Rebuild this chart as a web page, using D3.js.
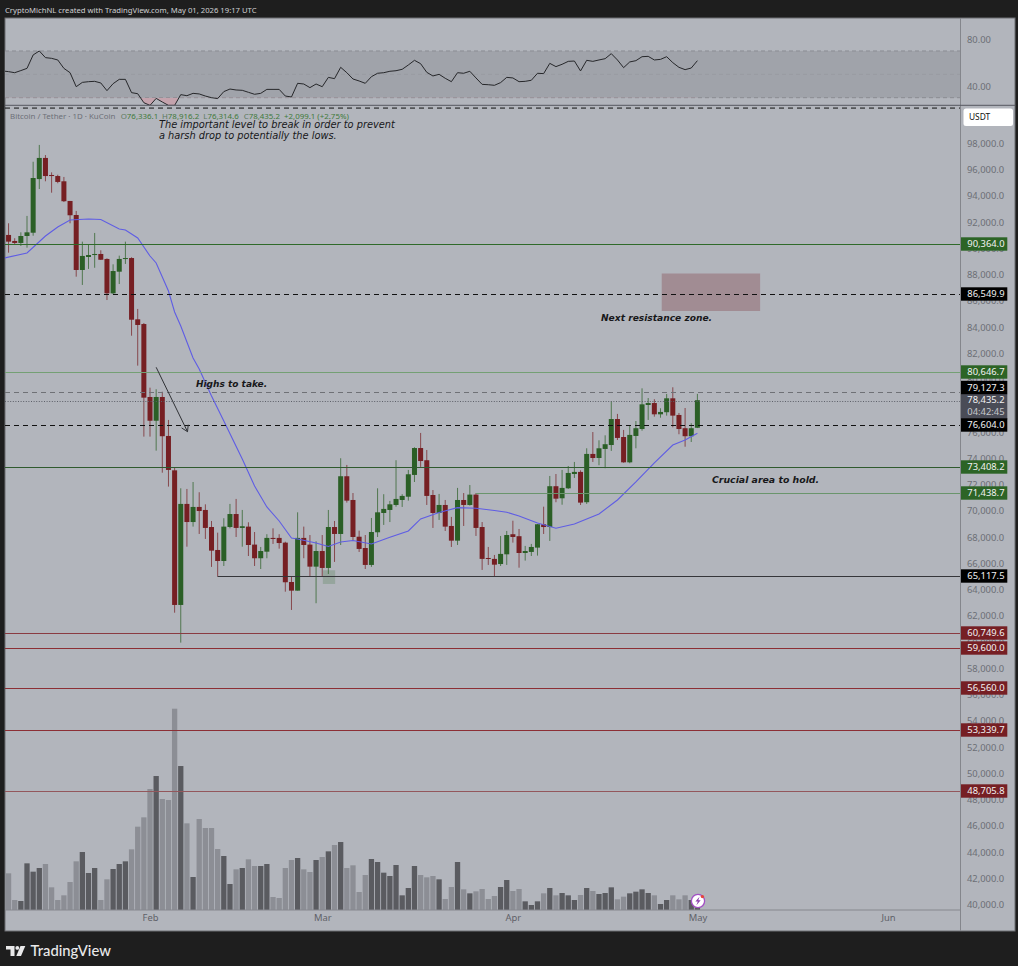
<!DOCTYPE html>
<html><head><meta charset="utf-8">
<script src="https://d3js.org/d3.v7.min.js"></script>
<style>
html,body{margin:0;padding:0;background:#1e1e1e;overflow:hidden}
svg{display:block}
text{font-family:"Noto Sans",sans-serif}
.note{font-family:"DejaVu Sans",sans-serif;font-style:italic;fill:#18181a}
</style></head><body>
<svg id="c" width="1018" height="966"></svg>
<script>
// ---------- data ----------
const firstDay = Date.UTC(2026,0,9);
const opens = [
91030,90570,90420,90950,91200,95290,96900,95600,95520,95120,
93620,92550,88360,89350,89500,89580,89200,86580,88230,89200,
89270,84600,84240,78680,76870,78680,75710,73090,62830,70530,
69150,70300,70070,68770,67020,66180,68770,69760,68700,68800,
67430,66390,66890,67940,67940,67580,64580,63920,67940,67430,
65750,66940,65650,68770,68240,72640,70830,68030,67170,65880,
68370,69840,70070,70450,70830,71080,72740,74790,73860,71210,
69840,70450,68850,67730,70830,70450,71240,68770,66410,66340,
65950,66690,68220,68070,66790,66870,67200,68980,68770,71880,
70960,71720,72810,72970,70660,74340,74030,74720,75020,77000,
75630,73700,75710,76240,78070,78220,77360,77520,78580,77310,
76300,75690,76336];
const highs = [
91920,90780,91230,92480,96610,97890,97120,95800,95620,95450,
93620,92860,90520,90270,91180,89860,89250,88790,89450,90520,
89330,85390,84320,79390,79270,79080,76930,73320,71720,71670,
72200,71420,70500,69230,68340,69440,70530,70910,70070,69130,
68390,67250,68220,68670,68220,67650,64990,69890,68800,68160,
67680,68160,70070,69230,74010,73500,71360,68490,68160,69460,
71720,71270,70760,73860,71270,73120,74850,75940,74640,71590,
71290,70830,69540,71750,71360,71970,71360,69150,67250,66640,
68090,68470,69250,68620,67330,67480,69000,70320,72660,72810,
73120,73420,73730,73090,74770,76010,75380,75760,78350,77390,
76170,76520,76850,79340,78600,78510,77820,78910,79420,77460,
77840,76680,78916];
const lows = [
89680,90340,90190,90060,90970,94530,95120,94250,94970,93540,
91920,87850,87220,88440,88530,89120,86070,86510,87290,88820,
83350,81070,75660,75660,74590,72910,71850,62240,59960,67270,
68800,68240,67860,65730,64990,65800,68670,68010,67270,66560,
65800,65570,66390,67480,67120,63840,62450,63920,66390,64990,
62960,64990,65190,66110,67400,70630,67730,66870,65570,65730,
68010,68930,69150,70320,70300,70780,72200,73350,70450,68700,
69310,68470,67250,67400,68850,70400,68090,65500,65880,64990,
65800,65880,67580,65670,66210,66560,66590,68240,67710,70660,
70470,71670,72510,70450,70530,73730,73480,73250,74570,75400,
73670,73630,74770,76110,76930,77180,77100,77260,76370,75840,
74890,75250,76314];
const closes = [
90520,90420,90950,91230,95370,96900,95520,95520,95070,93600,
92530,88360,89430,89500,89580,89140,86580,88280,89200,89270,
84570,84170,78630,76870,78680,75690,73120,62830,70530,69150,
70300,69990,68700,66970,66180,68800,69760,68700,68830,67400,
66390,66940,67940,67860,67550,64560,63920,67940,67400,65750,
66940,65650,68770,68240,72640,70780,68010,67100,65880,68390,
69890,70150,70500,70910,71140,72790,74790,73800,71140,69840,
70450,68800,67730,70830,70450,71240,68700,66340,66340,65900,
66720,68160,68010,66790,66940,67250,68980,68770,71880,70930,
71750,72890,72970,70630,74340,74030,74770,75080,77000,75560,
73700,75790,76300,78120,78220,77360,77540,78580,77260,76240,
75690,76300,78435];
const volumes = [
110,30,27,140,115,126,138,68,30,44,84,146,174,111,126,30,92,123,138,146,
182,250,278,363,402,333,330,604,432,260,99,273,246,246,183,162,78,122,126,152,
132,132,138,39,36,126,150,156,122,114,150,159,176,195,204,126,134,54,105,153,
144,112,102,135,44,66,132,105,98,102,92,33,69,144,62,50,56,63,33,42,
69,90,57,63,26,15,26,50,66,44,51,44,30,45,66,57,48,51,68,32,
40,50,55,62,51,44,18,30,44,32,44,30,20];
// RSI, starting one day before the first candle
const rsi = [
52.9,52.3,51.4,53.2,55.1,66.6,70,64.3,63.7,62.3,55.1,51.4,39.4,43.1,43.7,44,42.6,36,42,45.7,
45.7,34.3,33.4,25.7,23.4,29.4,26.3,23.4,23.4,32.6,31.7,33.7,33.2,31.4,30,29.2,35.2,37.4,36.6,36.3,
34.6,32.9,33.7,37.1,37.1,37.1,31.4,30.6,42.3,41.7,38.6,41.7,39.4,47.4,46.3,56,51.4,46,44.3,42.3,
48,50.9,51.4,52.6,53.1,54.3,58,62,59.1,51.7,48.6,50,46.6,43.7,51.4,50.9,52.6,46.9,41.4,41.1,
40.6,42.9,47.4,46.9,43.7,44,44.9,50.9,50.6,59.4,56.6,58.6,61.1,61.4,52.9,62,61.1,62.3,63.4,67.7,
62.3,55.7,60.6,61.7,65.1,65.4,62.3,62.8,65.1,60,56,54,55.4,61.7];
// moving average, read at these day offsets from the first candle
const maDays = [-1,3,6,8,10,13,15,18,19,21,23,24,26,27,28,30,31,33,35,38,40,42,44,46,47,50,52,54,56,59,62,65,67,70,73,76,79,81,83,86,89,92,96,99,102,105,108,110,112];
const maVals = [89240,89655,90950,91636,92170,92246,92208,91484,91408,90798,89426,88893,86759,85158,84092,81653,80815,78757,76852,73956,71898,70298,69231,67935,67859,67553,67287,67630,67744,67478,67988,68468,69383,69878,70245,70198,70031,69893,69611,69078,68674,69002,69764,70831,72203,73651,75022,75404,75914];

const priceTicks = d3.range(40000,98001,2000);
const rsiTicks = [40,80];
const rsiBands = [70,50,30];
const monthTicks = [Date.UTC(2026,1,1),Date.UTC(2026,2,1),Date.UTC(2026,3,1),Date.UTC(2026,4,1),Date.UTC(2026,5,1)];
const monthLabels = ["Feb","Mar","Apr","May","Jun"];

const levelPrices = [90364.0,86549.9,80646.7,79127.3,76604.0,73408.2,71438.7,65117.5,60749.6,59600.0,56560.0,53339.7,48705.8];
const levelKinds  = ["green","black","green","black","black","green","green","black","red","red","red","red","red"];
const levelStarts = [null,null,null,null,null,null,76,34,null,null,null,null,null];
const levelColors = ["#2f6a2a","#111","#74a074","#6f7176","#111","#2f5a2e","#6a956c","#35363a","#8a3b42","#8c2f35","#8c2f35","#8c2f35","#93575c"];
const levelDash   = ["", "5 4", "", "5 4", "5 4", "", "", "", "", "", "", "", ""];
const levelNudge  = [0,0,0,-4.5,0,0,0,0,0,0,0,0,0];
const lastPrice = 78435.2, countdown = "04:42:45", upperDashed = 100700;

const resistance = {days:[106.2,122.2], prices:[88092,85235]};
const smallZone  = {days:[51.1,53.1], prices:[65473,64430]};
const arrowDays = [24,29.1], arrowPrices = [80944,76036];

const W=1018, box={l:5,r:960.5,t:18,b:931,right:1015,sep:105.3,vol:910};
const svg=d3.select("#c");
const defs=svg.append("defs");
defs.append("clipPath").attr("id","plot").append("rect").attr("x",box.l).attr("y",box.sep).attr("width",box.r-box.l).attr("height",box.b-box.sep);
defs.append("clipPath").attr("id","rsiPane").append("rect").attr("x",box.l).attr("y",box.t).attr("width",box.r-box.l).attr("height",box.sep-box.t);

// scales
const dayMs=864e5;
const x=d3.scaleUtc().domain([firstDay,firstDay+112*dayMs]).range([8.55,697.4]);
const y=d3.scaleLinear().domain([40000,98000]).range([904.5,143.5]);
const yRsi=d3.scaleLinear().domain([40,80]).range([86,39.3]);
const yVol=d3.scaleLinear().domain([0,604]).range([box.vol,708.7]);
const dayX=d=>x(firstDay+d*dayMs);
const lineY=p=>Math.round(y(p)+0.7)+0.5;

// frame
svg.append("rect").attr("x",box.l).attr("y",box.t).attr("width",box.right-box.l).attr("height",box.b-box.t).attr("fill","#b2b5bc").attr("stroke","#6c6e73").attr("stroke-width",1);

const rows=opens.map((o,i)=>({i,o,h:highs[i],l:lows[i],c:closes[i],v:volumes[i]}));

// RSI pane
const rp=svg.append("g").attr("clip-path","url(#rsiPane)");
rp.append("rect").attr("x",box.l).attr("width",box.r-box.l).attr("y",yRsi(70)).attr("height",yRsi(30)-yRsi(70)).attr("fill","#a0a3aa");
rsiBands.forEach((b,k)=>rp.append("line").attr("x1",box.l).attr("x2",box.r).attr("y1",yRsi(b)).attr("y2",yRsi(b)).attr("stroke",k==1?"#989ba2":"#8a8d93").attr("stroke-dasharray","4 3"));
defs.append("clipPath").attr("id","os").append("rect").attr("x",0).attr("width",W).attr("y",yRsi(30)).attr("height",20);
const rsiX=(d,i)=>dayX(i-1);
rp.append("path").datum(rsi).attr("clip-path","url(#os)").attr("fill","#c4a3ad").attr("d",d3.area().x(rsiX).y0(yRsi(30)).y1(d=>yRsi(d)));
rp.append("path").datum(rsi).attr("fill","none").attr("stroke","#26272a").attr("stroke-width",1).attr("d",d3.line().x(rsiX).y(d=>yRsi(d)));

// main pane
const mp=svg.append("g").attr("clip-path","url(#plot)");
const barW=5.3;
mp.selectAll(".v").data(rows).join("rect").attr("x",d=>dayX(d.i)-barW/2).attr("width",barW)
  .attr("y",d=>yVol(d.v)).attr("height",d=>box.vol-yVol(d.v)).attr("fill",d=>d.c>=d.o?"#5a5b60":"#8c8e95");
mp.append("line").attr("x1",box.l).attr("x2",box.r).attr("y1",box.vol).attr("y2",box.vol).attr("stroke","#86888e");

// zones behind candles
mp.append("rect").attr("x",dayX(resistance.days[0])).attr("width",dayX(resistance.days[1])-dayX(resistance.days[0]))
  .attr("y",y(resistance.prices[0])).attr("height",y(resistance.prices[1])-y(resistance.prices[0])).attr("fill","#a18c93");
mp.append("rect").attr("x",dayX(smallZone.days[0])).attr("width",dayX(smallZone.days[1])-dayX(smallZone.days[0]))
  .attr("y",y(smallZone.prices[0])).attr("height",y(smallZone.prices[1])-y(smallZone.prices[0])).attr("fill","#96a59d");

// candles
const cg=mp.append("g");
const up="#2b5f26", dn="#761f23";
cg.selectAll(".w").data(rows).join("line").attr("x1",d=>dayX(d.i)).attr("x2",d=>dayX(d.i))
  .attr("y1",d=>y(d.h)).attr("y2",d=>y(d.l)).attr("stroke",d=>d.c>=d.o?up:dn).attr("stroke-opacity",.72).attr("stroke-width",1);
cg.selectAll(".b").data(rows).join("rect").attr("x",d=>dayX(d.i)-2.5).attr("width",5)
  .attr("y",d=>y(Math.max(d.o,d.c))).attr("height",d=>Math.max(1,Math.abs(y(d.o)-y(d.c)))).attr("fill",d=>d.c>=d.o?up:dn);

// moving average
mp.append("path").datum(maDays).attr("fill","none").attr("stroke","#5f5de4").attr("stroke-width",1.1)
  .attr("d",d3.line().x(d=>dayX(d)).y((d,i)=>y(maVals[i])));

// horizontal levels
mp.append("line").attr("x1",box.l).attr("x2",box.r).attr("y1",y(upperDashed)).attr("y2",y(upperDashed)).attr("stroke","#111").attr("stroke-dasharray","5 4");
mp.append("line").attr("x1",box.l).attr("x2",box.r).attr("y1",lineY(lastPrice)).attr("y2",lineY(lastPrice)).attr("stroke","#5c5f68").attr("stroke-dasharray","1 1.6");
levelPrices.forEach((p,i)=>{
  mp.append("line").attr("x1",levelStarts[i]==null?box.l:dayX(levelStarts[i])).attr("x2",box.r)
    .attr("y1",lineY(p)).attr("y2",lineY(p)).attr("stroke",levelColors[i]).attr("stroke-width",1)
    .attr("stroke-dasharray",levelDash[i]||null);
});

// arrow
const ax1=dayX(arrowDays[0]),ay1=y(arrowPrices[0]),ax2=dayX(arrowDays[1]),ay2=y(arrowPrices[1]);
const ang=Math.atan2(ay2-ay1,ax2-ax1);
const arrowLine=d3.line();
mp.append("path").attr("fill","none").attr("stroke","#303236").attr("stroke-width",1)
  .attr("d",arrowLine([[ax1,ay1],[ax2,ay2]])+arrowLine([[ax2-7*Math.cos(ang-.55),ay2-7*Math.sin(ang-.55)],[ax2,ay2],[ax2-7*Math.cos(ang+.55),ay2-7*Math.sin(ang+.55)]]));

// axes
svg.append("line").attr("x1",box.r).attr("x2",box.r).attr("y1",box.t).attr("y2",box.b).attr("stroke","#84868c");
svg.append("line").attr("x1",box.l).attr("x2",box.right).attr("y1",box.sep).attr("y2",box.sep).attr("stroke","#55585f");
const fmtP=d3.format(",.1f");
const axP=svg.append("g").attr("transform",`translate(${box.r},0)`).call(d3.axisRight(y).tickValues(priceTicks).tickSize(0).tickPadding(6.5).tickFormat(fmtP));
const axR=svg.append("g").attr("transform",`translate(${box.r},0)`).call(d3.axisRight(yRsi).tickValues(rsiTicks).tickSize(0).tickPadding(6.5).tickFormat(d3.format(".2f")));
const axT=svg.append("g").attr("transform",`translate(0,${box.vol})`).call(d3.axisBottom(x).tickValues(monthTicks).tickSize(0).tickPadding(4).tickFormat((d,i)=>monthLabels[i]));
[axP,axR,axT].forEach(a=>{a.select(".domain").remove();a.selectAll("text").attr("fill","#6c6f76").style("font-family",'"Noto Sans",sans-serif').attr("font-size",9.4);});
axT.selectAll("text").attr("fill","#5f6168");

// price pills
const kindFill={green:"#2c6426",black:"#000",red:"#761f24"};
const pill=(yc,h,fill,lines)=>{
  svg.append("rect").attr("x",961).attr("width",46.3).attr("y",yc-h/2).attr("height",h).attr("fill",fill);
  lines.forEach(l=>svg.append("text").attr("x",967.3).attr("y",l.y).attr("dy","0.35em").attr("fill",l.c||"#f2f2f2").attr("font-size",9.4).text(l.t));
};
const py=y(lastPrice);
pill(py+6.5,25.5,"#4a4c57",[{t:fmtP(lastPrice),y:py},{t:countdown,y:py+12,c:"#c6c7cc"}]);
levelPrices.forEach((p,i)=>{const c=lineY(p)-0.5+levelNudge[i];pill(c,13.4,kindFill[levelKinds[i]],[{t:fmtP(p),y:c}]);});

// USDT box
svg.append("rect").attr("x",963.5).attr("y",108.5).attr("width",49.5).attr("height",17.5).attr("rx",2.5).attr("fill","#fff");
svg.append("text").attr("x",969).attr("y",117.5).attr("dy","0.35em").attr("font-size",8.4).attr("fill","#111").text("USDT");

// header + legend
svg.append("text").attr("x",5).attr("y",12.5).attr("font-size",7.7).attr("fill","#cfd0d2").text("CryptoMichNL created with TradingView.com, May 01, 2026 19:17 UTC");
svg.append("text").attr("x",10).attr("y",118.8).attr("font-size",7.9).attr("fill","#6d7078").text("Bitcoin / Tether · 1D · KuCoin");
const legendParts=[[120.7,"O","76,336.1"],[162,"H","78,916.2"],[203.3,"L","76,314.6"],[243.7,"C","78,435.2"],[284,"","+2,099.1 (+2.75%)"]];
legendParts.forEach(([lx,a,b])=>{const t=svg.append("text").attr("x",lx).attr("y",118.8).attr("font-size",7.9).attr("fill","#3f7a3b");
  if(a)t.append("tspan").attr("fill","#5e7a62").text(a); t.append("tspan").text(b);});

// notes
const note=(tx,ty,s,weight,size)=>svg.append("text").attr("class","note").attr("x",tx).attr("y",ty).attr("font-size",size).attr("font-weight",weight).text(s);
note(159,128,"The important level to break in order to prevent","normal",9.8);
note(159,139,"a harsh drop to potentially the lows.","normal",9.8);
note(196,387,"Highs to take.","bold",9);
note(601,321,"Next resistance zone.","bold",9.1);
note(712,482.5,"Crucial area to hold.","bold",9.35);

// small flash icon near the last bar
const ic=svg.append("g").attr("transform","translate(698,901)");
ic.append("circle").attr("r",6.6).attr("fill","#fff").attr("stroke","#a24fc4").attr("stroke-width",1.3);
ic.append("path").attr("d","M1.5-4.2L-2.6 .6H-.2L-1.6 4.2L2.7-.8H.3Z").attr("fill","#8a3fae");
ic.append("circle").attr("cx",4.4).attr("cy",-4.4).attr("r",1.7).attr("fill","#e8453c");

// footer logo
const lg=svg.append("g").attr("transform","translate(6,946)").attr("fill","#e9e9ea");
lg.append("path").attr("d","M0 0H8.5V10H4.5V3.6H0Z");
lg.append("circle").attr("cx",11.3).attr("cy",1.9).attr("r",1.9);
lg.append("path").attr("d","M14.5 0H19.3L15 10H10.3Z");
svg.append("text").attr("x",30.5).attr("y",956).attr("font-size",14.8).attr("font-weight",500).attr("fill","#e9e9ea").style("font-family",'"Lato",sans-serif').text("TradingView");
</script>
</body></html>
